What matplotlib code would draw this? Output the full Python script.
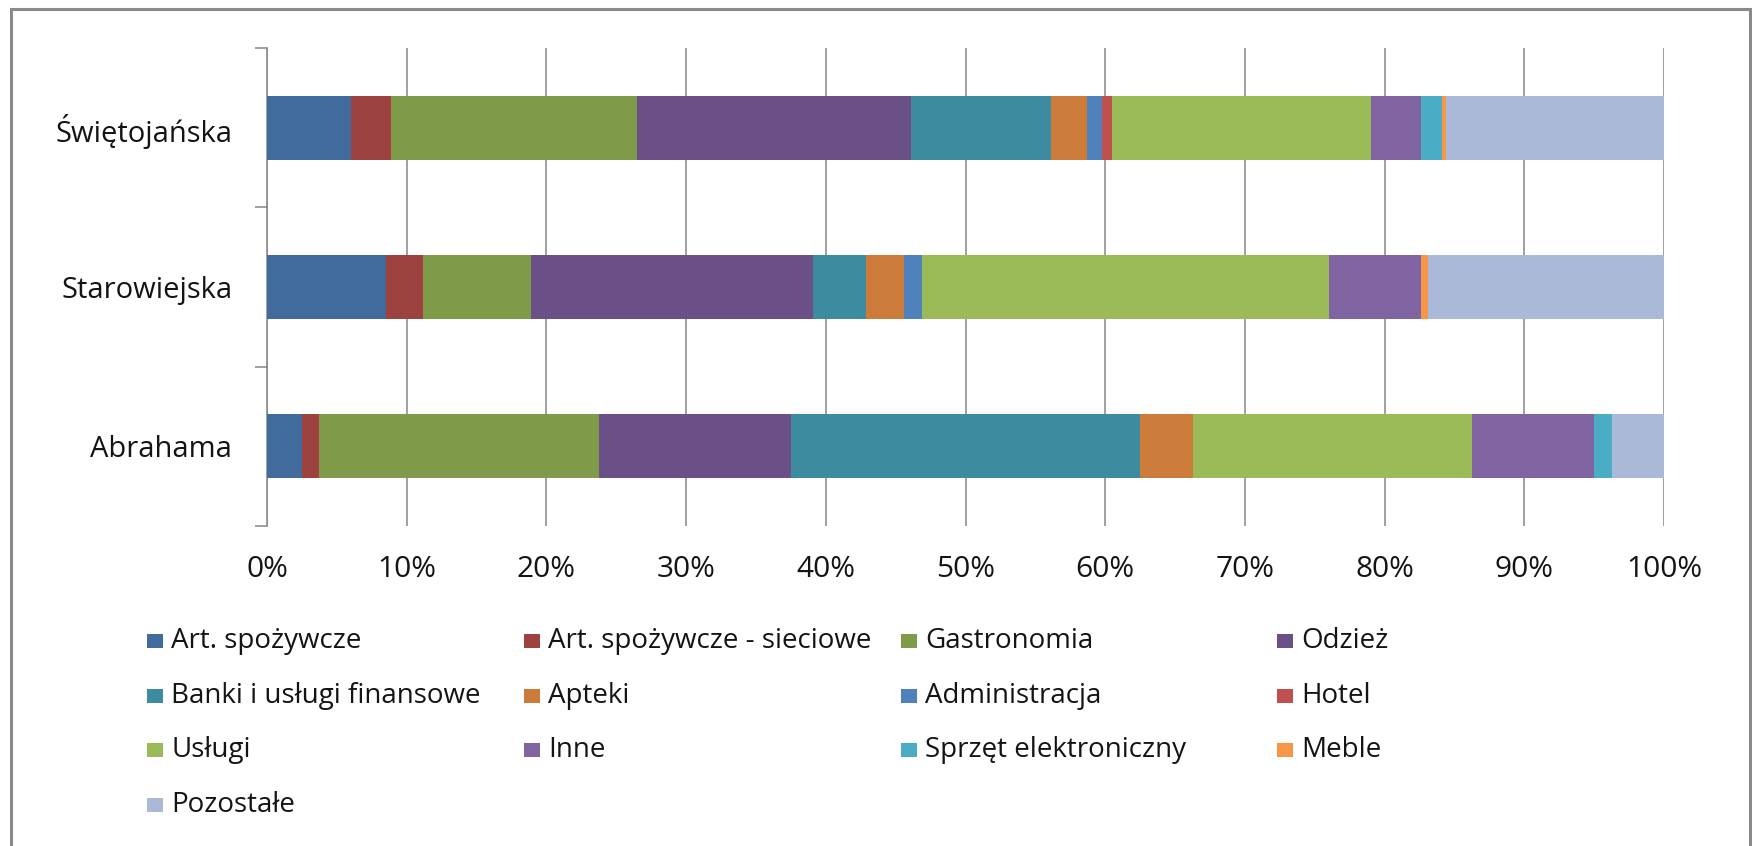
import numpy as np
import matplotlib
matplotlib.use("Agg")
import matplotlib.pyplot as plt
from matplotlib.patches import Rectangle
from matplotlib.ticker import MultipleLocator, PercentFormatter

plt.rcParams['font.family'] = ['Open Sans', 'DejaVu Sans']

# Streets, bottom to top
streets = ['Abrahama', 'Starowiejska', 'Świętojańska']

# Business categories (stack order, left to right)
categories = [
    'Art. spożywcze', 'Art. spożywcze - sieciowe', 'Gastronomia', 'Odzież',
    'Banki i usługi finansowe', 'Apteki', 'Administracja', 'Hotel',
    'Usługi', 'Inne', 'Sprzęt elektroniczny', 'Meble', 'Pozostałe',
]

# Share of each category per street (%)
abrahama = [2.5, 1.25, 20.0, 13.75, 25.0, 3.75, 0.0, 0.0, 20.0, 8.75, 1.25, 0.0, 3.75]
starowiejska = [8.5, 2.7, 7.7, 20.2, 3.8, 2.7, 1.3, 0.0, 29.1, 6.6, 0.0, 0.5, 16.9]
swietojanska = [6.0, 2.9, 17.6, 19.6, 10.0, 2.6, 1.1, 0.7, 18.5, 3.6, 1.5, 0.3, 15.6]

colors = [
    '#416B9C', '#9E4240', '#7F9A48', '#6A5086', '#3C8BA1', '#CC7B3A',
    '#4F81BD', '#C0504D', '#9BBB59', '#8064A2', '#4BACC6', '#F79646', '#AAB9D7',
]

W, H = 1752, 846
grid_col = '#868686'
text_col = '#141414'

shares = np.array([abrahama, starowiejska, swietojanska], dtype=float)
shares = shares / shares.sum(axis=1, keepdims=True)  # 100 % stacked

fig = plt.figure(figsize=(W / 100, H / 100), dpi=100)
fig.patch.set_facecolor('white')

ax = fig.add_axes([267 / W, 1 - 526 / H, (1664 - 267) / W, (526 - 48) / H])
ypos = np.arange(len(streets))
left = np.zeros(len(streets))
for i, (cat, col) in enumerate(zip(categories, colors)):
    ax.barh(ypos, shares[:, i], left=left, height=0.4, color=col,
            linewidth=0, label=cat, zorder=3)
    left += shares[:, i]

ax.set_xlim(0, 1)
ax.set_ylim(-0.5, len(streets) - 0.5)
ax.xaxis.set_major_locator(MultipleLocator(0.1))
ax.xaxis.set_major_formatter(PercentFormatter(1.0, decimals=0))
ax.grid(axis='x', color=grid_col, linewidth=1.1, zorder=0)
ax.set_axisbelow(True)

for side in ('top', 'right', 'bottom'):
    ax.spines[side].set_visible(False)
ax.spines['left'].set_color(grid_col)
ax.spines['left'].set_linewidth(1.1)

ax.tick_params(axis='x', length=0, pad=21, labelsize=21.5, labelcolor=text_col)
ax.set_yticks(ypos, streets)
ax.tick_params(axis='y', which='major', length=0, pad=25, labelsize=21,
               labelcolor=text_col)
ax.set_yticks(np.arange(-0.5, len(streets), 1.0), minor=True)
ax.tick_params(axis='y', which='minor', length=8.6, width=1.1, color=grid_col,
               direction='out')

# Legend laid out in four equal columns, row by row
col_x = [147, 524, 901, 1277]
row_y = [648, 702.5, 757, 811.5]   # baseline of each row (px from top)
for i, (cat, col) in enumerate(zip(categories, colors)):
    r, c = divmod(i, 4)
    x0, yb = col_x[c], row_y[r]
    fig.add_artist(Rectangle((x0 / W, 1 - yb / H), 16 / W, 14 / H,
                             transform=fig.transFigure, facecolor=col,
                             edgecolor='none'))
    fig.text((x0 + 24) / W, 1 - yb / H, cat, fontsize=20, color=text_col,
             ha='left', va='baseline')

# Chart frame
fig.add_artist(Rectangle((11 / W, -20 / H), (1750 - 11) / W, (H + 20 - 9) / H,
                         transform=fig.transFigure, facecolor='none',
                         edgecolor='#8a8a8a', linewidth=2.2))

fig.savefig('out.png', dpi=100, facecolor='white')
